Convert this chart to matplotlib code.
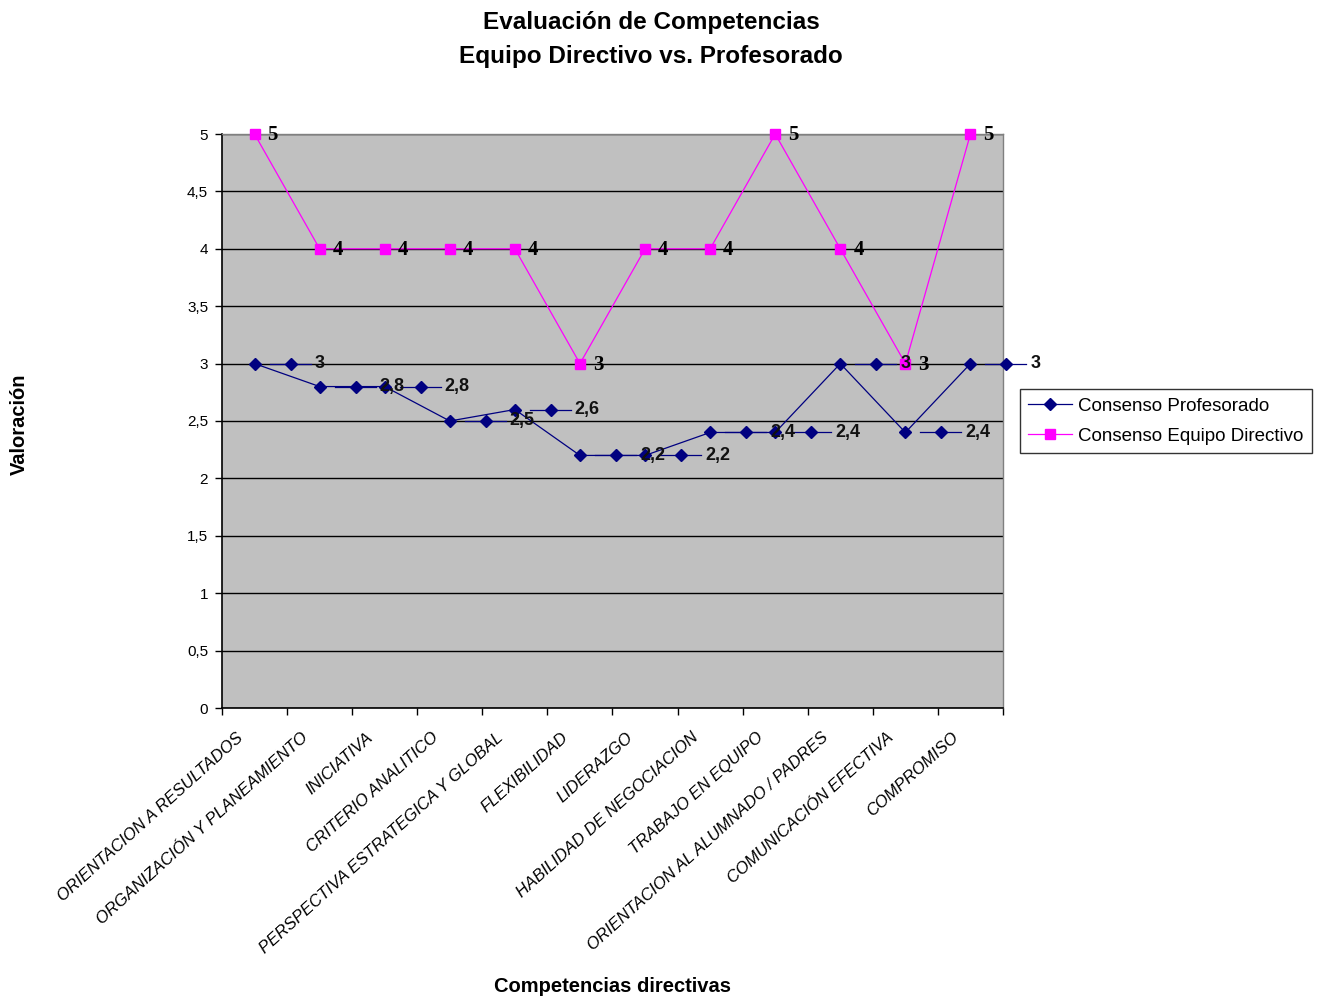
import matplotlib
matplotlib.use("Agg")
import matplotlib.pyplot as plt
import matplotlib.transforms as mtransforms

# competencias evaluadas y valoraciones de cada grupo
competencias = [
    "ORIENTACION A RESULTADOS",
    "ORGANIZACIÓN Y PLANEAMIENTO",
    "INICIATIVA",
    "CRITERIO ANALITICO",
    "PERSPECTIVA ESTRATEGICA Y GLOBAL",
    "FLEXIBILIDAD",
    "LIDERAZGO",
    "HABILIDAD DE NEGOCIACION",
    "TRABAJO EN EQUIPO",
    "ORIENTACION AL ALUMNADO / PADRES",
    "COMUNICACIÓN EFECTIVA",
    "COMPROMISO",
]
profesorado = [3, 2.8, 2.8, 2.5, 2.6, 2.2, 2.2, 2.4, 2.4, 3, 2.4, 3]
directivo = [5, 4, 4, 4, 4, 3, 4, 4, 5, 4, 3, 5]
y_ticks = [0, 0.5, 1, 1.5, 2, 2.5, 3, 3.5, 4, 4.5, 5]

azul = "#000080"
magenta = "#ff00ff"

plt.rcParams["font.family"] = ["Liberation Sans", "DejaVu Sans"]

fig = plt.figure(figsize=(13.17, 10.01), dpi=100)
W, H = 1317, 1001
ax = fig.add_axes([222 / W, 1 - 708 / H, 781 / W, 574 / H])
ax.set_facecolor("#c0c0c0")

x = list(range(len(competencias)))
ax.plot(x, profesorado, color=azul, lw=0.9, marker="D", ms=6,
        label="Consenso Profesorado", zorder=4, clip_on=False)
ax.plot(x, directivo, color=magenta, lw=0.9, marker="s", ms=6.5,
        label="Consenso Equipo Directivo", zorder=3, clip_on=False)

def fmt(v):
    return f"{v:g}".replace(".", ",")

# etiquetas de datos: clave de leyenda + valor (profesorado)
for i, v in zip(x, profesorado):
    tr = fig.dpi_scale_trans + mtransforms.ScaledTranslation(i, v, ax.transData)
    ax.plot([0.15, 0.56], [0, 0], color=azul, lw=0.9, transform=tr,
            zorder=5, clip_on=False)
    ax.plot([0.36], [0], color=azul, marker="D", ms=6, transform=tr,
            zorder=5, clip_on=False)
    ax.text(0.60, 0, fmt(v), transform=tr, ha="left", va="center",
            fontsize=13, fontweight="bold", color="#111111", zorder=6)

# etiquetas de datos (equipo directivo)
for i, v in zip(x, directivo):
    tr = fig.dpi_scale_trans + mtransforms.ScaledTranslation(i, v, ax.transData)
    ax.text(0.13, -0.01, fmt(v), transform=tr, ha="left", va="center",
            fontsize=15, fontweight="bold", family="Liberation Serif",
            color="black", zorder=6)

ax.set_xlim(-0.5, len(competencias) - 0.5)
ax.set_ylim(0, 5)
ax.set_yticks(y_ticks, [fmt(t) for t in y_ticks], fontsize=11)
ax.yaxis.grid(True, color="black", lw=1)
ax.set_axisbelow(True)
ax.tick_params(axis="y", direction="out", length=5, width=1, pad=5)

# etiquetas de categoria en diagonal, marcas en los limites
ax.set_xticks(x)
ax.set_xticklabels(competencias, rotation=42, ha="right", va="top",
                   rotation_mode="anchor", fontsize=12, style="italic")
ax.set_xticks([i - 0.5 for i in range(len(competencias) + 1)], minor=True)
ax.tick_params(axis="x", which="major", length=0, pad=0)
ax.tick_params(axis="x", which="minor", direction="out", length=5, width=1)
shift = mtransforms.ScaledTranslation(-0.19, -0.22, fig.dpi_scale_trans)
for lab in ax.get_xticklabels():
    lab.set_transform(lab.get_transform() + shift)

for s in ["left", "bottom"]:
    ax.spines[s].set_color("black")
    ax.spines[s].set_linewidth(1.2)
for s in ["top", "right"]:
    ax.spines[s].set_color("#808080")
    ax.spines[s].set_linewidth(1)

fig.text(651 / W, 1 - 22 / H, "Evaluación de Competencias", ha="center",
         va="center", fontsize=17.5, fontweight="bold")
fig.text(651 / W, 1 - 56 / H, "Equipo Directivo vs. Profesorado", ha="center",
         va="center", fontsize=17.5, fontweight="bold")
fig.text(19 / W, 1 - 424 / H, "Valoración", rotation=90, ha="center",
         va="center", fontsize=14.5, fontweight="bold")
fig.text(612 / W, 1 - 986 / H, "Competencias directivas", ha="center",
         va="center", fontsize=14.5, fontweight="bold")

leg = fig.legend(loc="upper left", bbox_to_anchor=(1020 / W, 1 - 389 / H),
                 frameon=True, fancybox=False, fontsize=13.5, handlelength=2.3,
                 handletextpad=0.35, borderpad=0.45, labelspacing=0.7,
                 borderaxespad=0)
leg.get_frame().set_edgecolor("black")
leg.get_frame().set_linewidth(1)

fig.savefig("out.png", dpi=100, facecolor="white")
